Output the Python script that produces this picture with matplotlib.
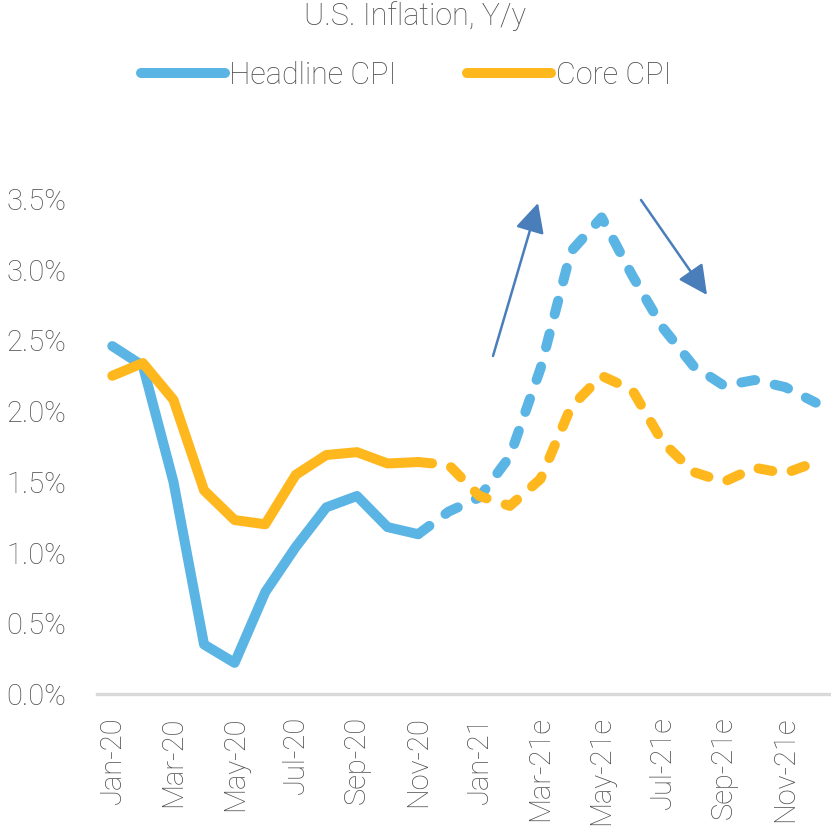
import matplotlib
matplotlib.use("Agg")
import matplotlib.pyplot as plt
from matplotlib.ticker import FuncFormatter

plt.rcParams['font.family'] = ['Roboto', 'DejaVu Sans']

# monthly data, Jan-20 .. Dec-21 (2021 mostly estimates)
months = ['Jan-20', 'Feb-20', 'Mar-20', 'Apr-20', 'May-20', 'Jun-20',
          'Jul-20', 'Aug-20', 'Sep-20', 'Oct-20', 'Nov-20', 'Dec-20',
          'Jan-21', 'Feb-21e', 'Mar-21e', 'Apr-21e', 'May-21e', 'Jun-21e',
          'Jul-21e', 'Aug-21e', 'Sep-21e', 'Oct-21e', 'Nov-21e', 'Dec-21e']
headline = [2.46, 2.32, 1.50, 0.35, 0.22, 0.72, 1.04, 1.32, 1.40, 1.18, 1.13, 1.29,
            1.39, 1.68, 2.30, 3.13, 3.37, 2.96, 2.59, 2.32, 2.18, 2.22, 2.17, 2.06]
core = [2.25, 2.34, 2.08, 1.44, 1.23, 1.20, 1.55, 1.69, 1.71, 1.63, 1.64, 1.62,
        1.40, 1.33, 1.52, 2.03, 2.25, 2.15, 1.78, 1.57, 1.50, 1.60, 1.56, 1.64]
split = 10  # actuals end at Nov-20, dashed from there

BLUE = '#5AB4E4'
ORANGE = '#FFB71E'
ARROW = '#4A7EBB'
TXT = '#4F4F4F'

W, H = 831, 833
fig = plt.figure(figsize=(W / 100, H / 100), dpi=100)
ax = fig.add_axes([97 / W, 1 - 694 / H, (W - 97) / W, (694 - 199) / H])

x = list(range(len(months)))
lw = 7.2
for vals, col, lab in [(headline, BLUE, 'Headline CPI'), (core, ORANGE, 'Core CPI')]:
    ax.plot(x[:split + 1], vals[:split + 1], color=col, lw=lw, label=lab,
            solid_capstyle='round', solid_joinstyle='round', clip_on=False)
    ln, = ax.plot(x[split:], vals[split:], color=col, lw=lw,
                  dash_capstyle='round', dash_joinstyle='round', clip_on=False)
    ln.set_dashes((1.4, 2.0))

ax.set_xlim(-0.5, len(months) - 0.5)
ax.set_ylim(0, 3.5)
ax.set_yticks([0, 0.5, 1.0, 1.5, 2.0, 2.5, 3.0, 3.5])
ax.yaxis.set_major_formatter(FuncFormatter(lambda v, p: f'{v:.1f}%'))
ax.set_xticks(x[::2])
ax.set_xticklabels(months[::2], rotation=90, va='top')

for s in ['top', 'right', 'left']:
    ax.spines[s].set_visible(False)
ax.spines['bottom'].set_color('#D9D9D9')
ax.spines['bottom'].set_linewidth(2.4)
ax.tick_params(axis='both', length=0, colors=TXT, labelsize=21)
ax.tick_params(axis='y', pad=22)
ax.tick_params(axis='x', pad=16)
for t in ax.get_xticklabels() + ax.get_yticklabels():
    t.set_fontweight('light')

fig.text(415 / W, 1 - 16 / H, 'U.S. Inflation, Y/y', ha='center', va='center',
         fontsize=22, color=TXT, fontweight='light')

leg = ax.legend(loc='center', bbox_to_anchor=(406 / W, 1 - 75 / H),
                bbox_transform=fig.transFigure, ncol=2, frameon=False,
                fontsize=22, handlelength=2.75, handletextpad=0.15,
                columnspacing=2.3, labelcolor=TXT)
for t in leg.get_texts():
    t.set_fontweight('light')

# trend arrows
for tail, head in [((493, 356), (538, 203)), ((641, 200), (707, 295))]:
    fig.add_artist(matplotlib.patches.FancyArrowPatch(
        (tail[0] / W, 1 - tail[1] / H), (head[0] / W, 1 - head[1] / H),
        transform=fig.transFigure, arrowstyle='-|>,head_length=0.9,head_width=0.45',
        mutation_scale=20, color=ARROW, lw=1.8, shrinkA=0, shrinkB=0))

fig.savefig('out.png', dpi=100)
